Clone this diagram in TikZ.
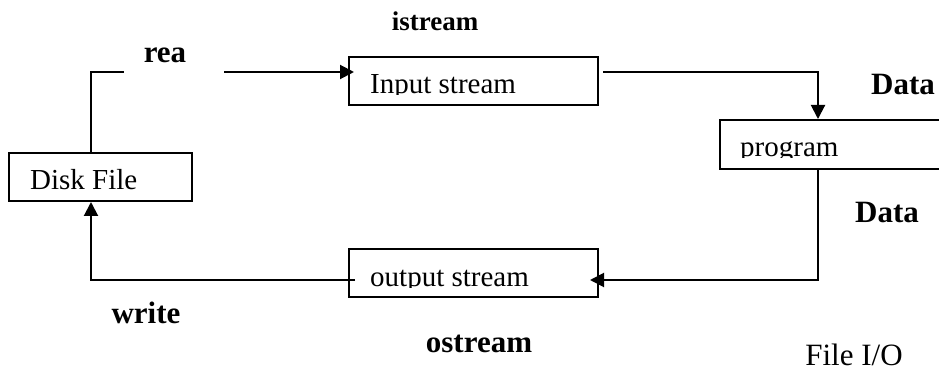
\documentclass[tikz,border=0pt]{standalone}
\usepackage{fontspec}
\setmainfont{Liberation Serif}
\usetikzlibrary{arrows.meta}
\tikzset{
  plain/.style={line width=2pt},
  ln/.style={line width=2pt, -{Triangle[length=14pt,width=14pt]}},
  boxx/.style={draw, line width=2pt, inner sep=0pt, anchor=north west},
  lbl/.style={font=\bfseries\fontsize{31}{36}\selectfont, anchor=base, inner sep=0pt},
  txt/.style={font=\fontsize{29}{34}\selectfont, anchor=base west, inner sep=0pt},
}
\begin{document}
\begin{tikzpicture}[x=1pt,y=-1pt]
\clip (0,0) rectangle (939,371);
\fill[white] (0,0) rectangle (939,371);
% boxes
\node[boxx, minimum width=183pt, minimum height=48pt] (disk) at (8,152) {};
\node[boxx, minimum width=249pt, minimum height=48pt] (in) at (348,56) {};
\node[boxx, minimum width=240pt, minimum height=49pt] (prog) at (719,119) {};
\node[boxx, minimum width=249pt, minimum height=48pt] (out) at (348,248) {};
% box texts
\node[txt] (dtext) at (30,190) {Disk File};
\begin{scope}
  \clip (348,56) rectangle (597,95);
  \node[txt] (intext) at (370,94) {Input stream};
\end{scope}
\begin{scope}
  \clip (719,119) rectangle (939,158);
  \node[txt] (ptext) at (740,157) {program};
\end{scope}
\begin{scope}
  \clip (348,248) rectangle (597,287);
  \node[txt] (otext) at (370,286) {output stream};
\end{scope}
% connectors
\coordinate (r1) at (124,72);
\coordinate (r2) at (224,72);
\coordinate (d1) at (603,72);
\draw[plain] ([xshift=83pt]disk.north west) |- (r1);
\draw[ln, shorten >=-6pt] (r2) -- (in.west |- r2);
\draw[ln] (d1) -| ([xshift=99pt]prog.north west);
\draw[ln] ([xshift=99pt]prog.south west) |- ([xshift=-9pt,yshift=-7pt]out.east);
\draw[ln] ([xshift=7pt,yshift=-7pt]out.west) -| ([xshift=83pt]disk.south west);
% labels
\node[lbl] (rea) at (165,63) {rea};
\node[lbl, font=\bfseries\fontsize{27}{32}\selectfont] (istream) at (435,31) {istream};
\node[lbl] (data1) at (903,95) {Data};
\node[lbl] (data2) at (887,223) {Data};
\node[lbl] (write) at (146,323) {write};
\node[lbl] (ostream) at (479,352) {ostream};
\node[lbl, font=\fontsize{31}{36}\selectfont] (fio) at (854,365) {File I/O};
\end{tikzpicture}
\end{document}
